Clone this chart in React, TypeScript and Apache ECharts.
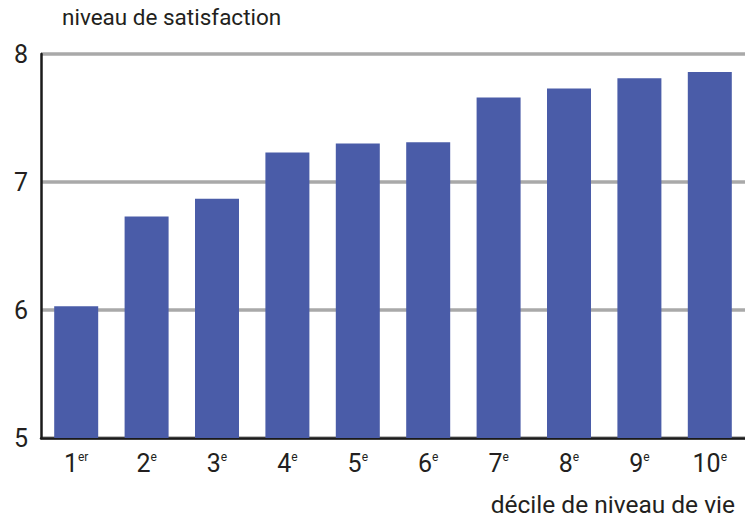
import React, { useEffect, useRef } from "react";
import * as echarts from "echarts";

const deciles = ["1", "2", "3", "4", "5", "6", "7", "8", "9", "10"];
const suffixes = ["er", "e", "e", "e", "e", "e", "e", "e", "e", "e"];
const satisfaction = [6.03, 6.73, 6.87, 7.23, 7.3, 7.31, 7.66, 7.73, 7.81, 7.86];
const yTicks = [5, 6, 7, 8];

const FONT = "Roboto, 'Noto Sans', sans-serif";

export default function App() {
  const ref = useRef<HTMLDivElement>(null);
  useEffect(() => {
    if (!ref.current) return;
    const chart = echarts.init(ref.current, null, { renderer: "svg" });
    const labels = deciles.map((d, i) => d + "|" + suffixes[i]);
    chart.setOption({
      animation: false,
      grid: { left: 41, right: -3, top: 54, bottom: 85 },
      graphic: [
        {
          type: "text",
          left: 62,
          top: 5,
          style: { text: "niveau de satisfaction", fontSize: 22.5, fontFamily: FONT, fill: "#231f20" },
        },
        {
          type: "text",
          right: 10,
          top: 492,
          style: { text: "décile de niveau de vie", fontSize: 24.5, fontFamily: FONT, fill: "#231f20" },
        },
      ],
      xAxis: {
        type: "category",
        data: labels,
        axisLine: { show: true, lineStyle: { color: "#1a1a1a", width: 2.5 } },
        axisTick: { show: false },
        axisLabel: {
          interval: 0,
          margin: 13,
          formatter: (v: string) => {
            const [n, s] = v.split("|");
            return "{n|" + n + "}{s|" + s + "}";
          },
          rich: {
            n: { fontSize: 25, fontFamily: FONT, color: "#231f20", verticalAlign: "bottom" },
            s: { fontSize: 12, fontFamily: FONT, color: "#231f20", verticalAlign: "top", padding: [0, 0, 12, 0] },
          },
        },
      },
      yAxis: {
        type: "value",
        min: yTicks[0],
        max: yTicks[yTicks.length - 1],
        interval: 1,
        axisLine: { show: true, lineStyle: { color: "#1a1a1a", width: 2.5 } },
        axisTick: { show: false },
        axisLabel: { fontSize: 25, fontFamily: FONT, color: "#231f20", margin: 13 },
        splitLine: {
          show: true,
          lineStyle: { color: "#a9a9a9", width: 3.5 },
        },
      },
      series: [
        {
          type: "bar",
          data: satisfaction,
          barWidth: 44,
          itemStyle: { color: "#4a5ca8" },
        },
      ],
    });
    return () => chart.dispose();
  }, []);
  return (
    <div
      ref={ref}
      style={{ position: "absolute", left: 0, top: 0, width: 745, height: 523, background: "#fff" }}
    />
  );
}
